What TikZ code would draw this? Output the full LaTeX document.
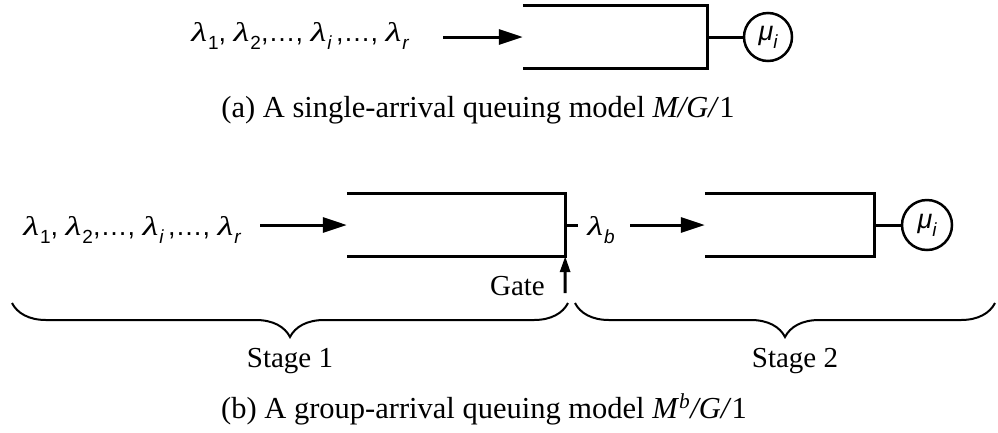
\documentclass[tikz,border=0pt]{standalone}
\usepackage{fontspec}
\setmainfont{Liberation Serif}
\newfontfamily\lsans{Liberation Sans}
\newfontfamily\lserif{Liberation Serif}
\usetikzlibrary{arrows.meta,decorations.pathreplacing}
\newcommand\sbx[1]{\raisebox{-0.3em}{\fontsize{19}{19}\selectfont #1}}
\newcommand\lm[1]{{\lserif\itshape\scalebox{1.35}[1]{λ}}\kern1pt\sbx{#1}}
\begin{document}
\begin{tikzpicture}[x=1pt,y=-1pt,
  qbox/.style={minimum width=#1, minimum height=62pt, inner sep=0pt, draw=none},
  qline/.style={line width=3pt},
  arr/.style={line width=3pt, -{Triangle[length=24pt,width=15pt]}},
  garr/.style={line width=3pt, -{Triangle[length=16pt,width=10pt]}},
  srv/.style={circle, draw, line width=2.5pt, minimum size=#1, inner sep=0pt, font=\lsans\fontsize{27}{27}\selectfont},
  sym/.style={inner sep=0pt, font=\lsans\fontsize{27}{30}\selectfont},
  captxt/.style={inner sep=0pt, font=\fontsize{29}{32}\selectfont},
  bigcap/.style={inner sep=0pt, font=\fontsize{30.5}{34}\selectfont},
  brc/.style={line width=2pt, decorate, decoration={brace, mirror, amplitude=34pt}}
]
\useasboundingbox (0,0) rectangle (998,432);

% (a)
\node[sym, anchor=base] (lt) at (300,41) {\lm{1}, \lm{2},…, \lm{\itshape i}\,,…, \lm{\itshape r}};
\coordinate (a1s) at (443,37);
\node[qbox=184] (q1) at (615,37) {};
\draw[qline] (q1.north west) -- (q1.north east) -- (q1.south east) -- (q1.south west);
\node[srv=48pt] (c1) at (768,37) {\itshape μ\sbx{i}};
\draw[arr] (a1s) -- (q1.west);
\draw[qline] (q1.east) -- (c1.west);
\node[bigcap, anchor=base] (capa) at (478,117) {(a) A single-arrival queuing model \textit{M/G/}1};

% (b)
\node[sym, anchor=base] (lb) at (132,235) {\lm{1}, \lm{2},…, \lm{\itshape i}\,,…, \lm{\itshape r}};
\coordinate (a2s) at (260,225);
\node[qbox=218] (q2) at (456,225) {};
\draw[qline] (q2.north west) -- (q2.north east) -- (q2.south east) -- (q2.south west);
\draw[arr] (a2s) -- (q2.west);
\coordinate (stub) at (578,225);
\draw[qline] (q2.east) -- (stub);
\node[sym, anchor=base] (lbb) at (601,235) {\lm{\itshape b}};
\coordinate (a3s) at (630,225);
\node[qbox=169] (q3) at (789.5,225) {};
\draw[qline] (q3.north west) -- (q3.north east) -- (q3.south east) -- (q3.south west);
\draw[arr] (a3s) -- (q3.west);
\node[srv=50pt] (c2) at (927,225) {\itshape μ\sbx{i}};
\draw[qline] (q3.east) -- (c2.west);

\coordinate (g0) at (565,293);
\draw[garr] (g0) -- (q2.south east);
\node[captxt, anchor=base east] (gate) at (545,295) {Gate};

\coordinate (b1s) at (12,303);
\coordinate (b1e) at (568,303);
\coordinate (b2s) at (575,303);
\coordinate (b2e) at (995,303);
\draw[brc] (b1s) -- (b1e);
\draw[brc] (b2s) -- (b2e);
\node[captxt, anchor=base] (st1) at (290,367) {Stage 1};
\node[captxt, anchor=base] (st2) at (795,367) {Stage 2};
\node[bigcap, anchor=base] (capb) at (484,418) {(b) A group-arrival queuing model \textit{M}\textsuperscript{\textit{b}}\textit{/G/}1};
\end{tikzpicture}
\end{document}
